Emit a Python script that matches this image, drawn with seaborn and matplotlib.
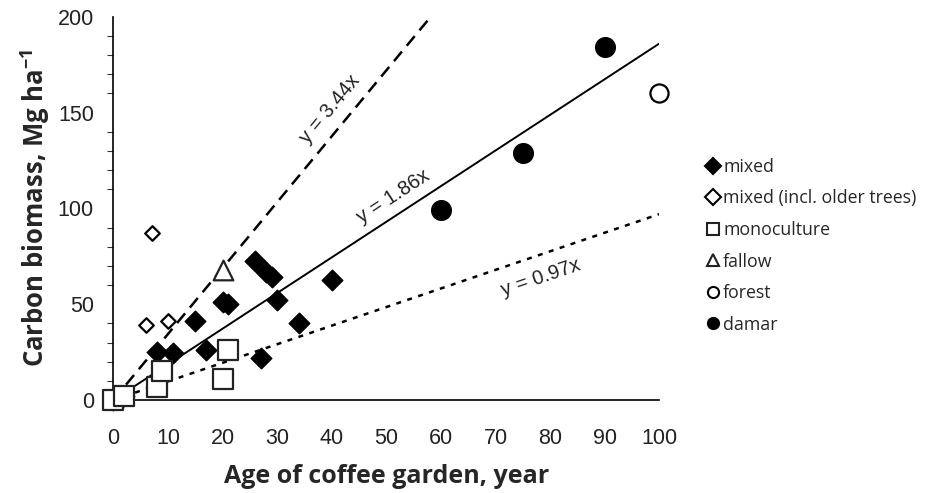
import matplotlib
matplotlib.use("Agg")
import matplotlib.pyplot as plt
from matplotlib.lines import Line2D
import seaborn as sns
import pandas as pd

# Carbon biomass by age of coffee garden
mixed_age = [0, 1, 2, 8, 11, 15, 17, 20, 21, 26, 27, 28, 29, 30, 34, 40]
mixed_c = [0, 1, 2, 25, 24.5, 41, 26, 51, 50, 72.5, 22, 67, 64, 52, 40, 62.5]
older_age = [6, 7, 10]
older_c = [39, 87, 41]
mono_age = [0, 2, 8, 9, 20, 21]
mono_c = [0, 2, 7, 15, 11, 26]
fallow_age = [20]
fallow_c = [68]
forest_age = [100]
forest_c = [160]
damar_age = [60, 75, 90]
damar_c = [99, 129, 184]

slopes = [3.44, 1.86, 0.97]
slope_labels = ["y = 3.44x", "y = 1.86x", "y = 0.97x"]

sns.set_theme(style="white")
plt.rcParams["font.family"] = ["Liberation Sans", "DejaVu Sans"]

fig = plt.figure(figsize=(9.25, 4.93), dpi=100)
ax = fig.add_axes([0.1225, 0.1886, 0.5903, 0.7775])

# regression lines through the origin
line_styles = [dict(ls=(0, (5, 3)), lw=1.8), dict(ls="-", lw=1.4), dict(ls=(0, (2, 2.6)), lw=1.8)]
for s, st in zip(slopes, line_styles):
    xe = min(100, 200 / s)
    sns.lineplot(x=[0, xe], y=[0, s * xe], color="black", ax=ax,
                 linestyle=st["ls"], linewidth=st["lw"])

series = [
    ("mixed", mixed_age, mixed_c, "D", "black", "black", 110, 1.0),
    ("mixed (incl. older trees)", older_age, older_c, "D", "white", "black", 55, 1.6),
    ("monoculture", mono_age, mono_c, "s", "white", "#222222", 190, 1.6),
    ("fallow", fallow_age, fallow_c, "^", "white", "#222222", 200, 1.6),
    ("forest", forest_age, forest_c, "o", "white", "black", 170, 1.6),
    ("damar", damar_age, damar_c, "o", "black", "black", 200, 1.0),
]
for name, xs, ys, m, fc, ec, size, lw in series:
    df = pd.DataFrame({"age": xs, "c": ys})
    sns.scatterplot(data=df, x="age", y="c", marker=m, s=size, color=fc,
                    edgecolor=ec, linewidth=lw, ax=ax, clip_on=False, zorder=3)

ax.set_xlim(0, 100)
ax.set_ylim(0, 200)
ax.set_xticks(range(0, 101, 10))
ax.set_yticks(range(0, 201, 50))
ax.set_yticks(range(0, 201, 10), minor=True)
ax.tick_params(axis="both", which="major", direction="out", length=6, width=1,
               labelsize=15.5, color="#333333", labelcolor="#222222")
ax.tick_params(axis="y", which="minor", direction="out", length=4, width=0.8,
               left=True, color="#333333")
ax.tick_params(axis="x", pad=14)
ax.tick_params(axis="y", pad=8)
for side in ("top", "right"):
    ax.spines[side].set_visible(False)
for side in ("left", "bottom"):
    ax.spines[side].set_color("black")
    ax.spines[side].set_linewidth(1.2)

ax.set_xlabel("Age of coffee garden, year", fontsize=18, fontweight="bold",
              family=["Open Sans", "DejaVu Sans"], labelpad=11)
ax.set_ylabel("Carbon biomass, Mg ha$^{\\mathregular{-1}}$", fontsize=18.5, fontweight="bold",
              family=["Open Sans", "DejaVu Sans"], labelpad=4)

# slope annotations along the lines
label_pos = [(39.7, 152, 50.4), (51.3, 106, 33.1), (78.4, 63.6, 18.8)]
for txt, (lx, ly, rot) in zip(slope_labels, label_pos):
    ax.text(lx, ly, txt, rotation=rot, ha="center", va="center", fontsize=14.5,
            color="#222222", rotation_mode="anchor")

handles = []
for name, xs, ys, m, fc, ec, size, lw in series:
    handles.append(Line2D([], [], linestyle="none", marker=m, markersize=8,
                          markerfacecolor=fc, markeredgecolor=ec, markeredgewidth=1.5))
fig.legend(handles, [s[0] for s in series], loc="upper left",
           bbox_to_anchor=(0.748, 0.712), frameon=False, handlelength=0.6,
           handletextpad=0.25, labelspacing=0.76,
           prop={"family": ["Open Sans", "DejaVu Sans"], "size": 12.8})

ax.set_facecolor("white")
fig.patch.set_facecolor("white")
sns.despine(ax=ax)
fig.savefig("out.png", dpi=100)
